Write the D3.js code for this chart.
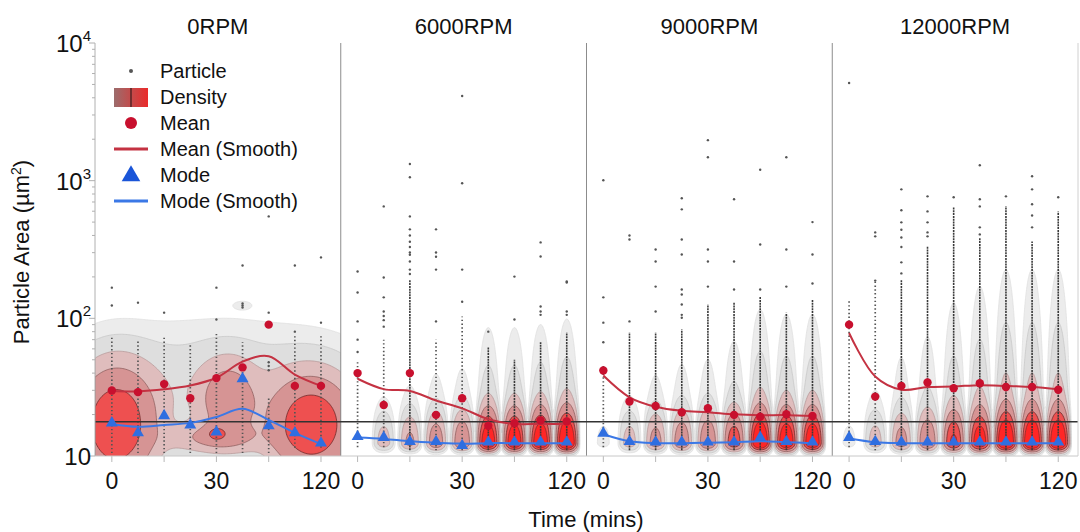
<!DOCTYPE html>
<html>
<head>
<meta charset="utf-8">
<script src="https://cdn.jsdelivr.net/npm/d3@7"></script>
<style>
  body { margin: 0; background: #fff; }
  svg { display: block; font-family: "Liberation Sans", Arial, sans-serif; }
</style>
</head>
<body>
<div id="chart"></div>
<script>
// Chart data

const panelNames = ["0RPM", "6000RPM", "9000RPM", "12000RPM"];
const times = ["0", "5", "10", "15", "30", "45", "60", "90", "120"];
const timeLabels = ["0", "30", "120"];
const yTicks = [10, 100, 1000, 10000];
const referenceLine = 17.7;

// mean / mode per panel per time point (µm²)
const meanValues = [
    [29.9, 29.1, 33.3, 26.3, 36.8, 44.0, 90, 32.3, 32.3],
    [40, 23.5, 40, 19.9, 26.3, 16.6, 17.3, 18.1, 17.8],
    [41.8, 24.9, 23.1, 20.8, 22.2, 19.9, 19.3, 20.1, 19.5],
    [90, 27, 32.3, 34.2, 31.1, 33.8, 31.7, 31.7, 30.3]
];
const meanSmooth = [
    [29.7, 29.5, 30.5, 32.5, 37, 48.5, 53, 39, 32.3],
    [36.4, 30.6, 29.7, 25.3, 22.2, 18.5, 17.1, 17.1, 17.1],
    [38.4, 26.7, 22.8, 21.3, 20.8, 20.1, 19.8, 19.8, 19.5],
    [78.3, 37.8, 30.3, 31.7, 32, 32.7, 32.3, 31.7, 30.6]
];
const modeValues = [
    [17.1, 14.5, 19.3, 16.5, 14.7, 35.8, 16.3, 14.5, 12.2],
    [13.6, 13.4, 12.5, 12.5, 11.7, 12.4, 12.4, 12.4, 12.4],
    [14.4, 12.5, 12.4, 12.4, 12.4, 12.4, 13.4, 12.5, 12.4],
    [13.4, 12.5, 12.4, 12.4, 12.4, 12.4, 12.4, 12.4, 12.4]
];
const modeSmooth = [
    [17.1, 16.3, 16.8, 17.4, 19.2, 22, 18.3, 14.7, 12.2],
    [13.6, 13.3, 12.8, 12.5, 12.3, 12.4, 12.4, 12.4, 12.4],
    [14.4, 12.8, 12.4, 12.4, 12.5, 12.6, 12.8, 12.6, 12.4],
    [13.4, 12.6, 12.4, 12.4, 12.4, 12.4, 12.4, 12.4, 12.4]
];

// single particles (outliers above the strips)
const particleOutliers = [
    [[167, 124], [130], [110], [], [167, 98], [242, 128, 124, 120], [550, 110, 48, 45, 42], [242, 80], [277, 93]],
    [[219, 154, 95, 70, 57], [650, 198, 142, 112, 104, 97, 87], [1320, 1060, 550, 443, 400, 360, 330, 301, 290, 259, 226, 210],
     [443, 301, 280, 226, 95], [4120, 957, 226, 132], [80], [201, 98], [356, 281, 122, 112, 106], [185, 182, 112, 106]],
    [[1006, 142, 93, 67], [400, 374, 95], [316, 259, 170, 112], [745, 619, 374, 291, 162, 149, 126, 106, 101],
     [1970, 1480, 316, 259, 170], [732, 259, 162], [1200, 344, 162], [1480, 316, 170], [500, 291, 179]],
    [[5120], [421, 394, 188], [865, 609, 498, 440, 387, 330, 255, 212], [769, 598, 498, 421, 394], [757],
     [1294, 732, 650, 458, 407], [769], [1076, 865, 674, 559, 458], [757]]
];
// packed particle strips [low, high]; null = none
const denseStrips = [
    [null, null, null, null, null, null, null, null, null],
    [null, null, [11, 190], null, null, [11, 62], [11, 50], [11, 67], [11, 79]],
    [null, [11, 79], [11, 79], [11, 83], [11, 126], [11, 130], [11, 144], [11, 110], [11, 137]],
    [null, null, [11, 190], [11, 333], [11, 640], [11, 387], [11, 651], [11, 362], [11, 598]]
];
// loose particle strips [low, high]
const sparseStrips = [
    [[10.5, 74], [10.5, 70], [10.5, 74], [10.5, 64], [10.5, 80], [10.5, 67], [10.5, 27], [11.5, 74], [11.5, 74]],
    [[11.6, 48], [11.6, 70], null, [11, 70], [11, 103], null, null, null, null],
    [[11.6, 46], null, null, null, null, null, null, null, null],
    [[11.6, 137], [11, 188], null, null, null, null, null, null, null]
];

// density strength per column (panels with violins)
const violinWeights = [
    null,
    [0.02, 0.18, 0.3, 0.42, 0.48, 1.3, 1.3, 1.4, 1.6],
    [0.03, 0.18, 0.35, 0.45, 0.5, 0.75, 1.5, 1.35, 1.35],
    [0.03, 0.18, 0.35, 0.5, 0.9, 1.2, 1.6, 1.6, 1.6]
];
const violinTail = [null, 0.3, 0.33, 0.42];
// 0RPM density blobs: [time index, centre value, x spread (index), log spread, weight]
const blobs0RPM = [
    [0.15, 16.5, 0.95, 0.26, 0.75],
    [7.65, 16.5, 1.0, 0.22, 0.75],
    [4.0, 14.5, 0.22, 0.03, 0.3],
    [4.45, 25, 0.7, 0.18, 0.35],
    [3.95, 13.5, 1.15, 0.07, 0.25],
    [4.0, 32, 3.8, 0.28, 0.09],
    [5.0, 125, 0.3, 0.025, 0.022]
];

const legendItems = ["Particle", "Density", "Mean", "Mean (Smooth)", "Mode", "Mode (Smooth)"];

// Layout

const width = 1080, height = 532;
const plotLeft = 95, plotRight = 1078, plotTop = 43, plotBottom = 456;
const panelWidth = (plotRight - plotLeft) / panelNames.length;

const densityLevels = [0.02, 0.05, 0.12, 0.25, 0.5, 0.8];
const densityFill = ["#ececec", "#dedede", "#dfbdbd", "#d69494", "#ee5050", "#ff2626"];
const densityStroke = ["#e0e0e0", "#c8c8c8", "#b89a9a", "#8f6060", "#6e2a2a", "#8a2a2a"];

const meanColor = "#c8102e", meanLine = "#c43242";
const modeColor = "#2f6ee0", modeLine = "#3b78e6";

const svg = d3.select("#chart").append("svg")
    .attr("width", width)
    .attr("height", height);

const y = d3.scaleLog().domain([10, 10000]).range([plotBottom, plotTop]);

function xScaleFor(p) {
    const x0 = plotLeft + p * panelWidth;
    return d3.scalePoint().domain(times).range([x0, x0 + panelWidth]).padding(0.7).align(0.46);
}

const defs = svg.append("defs");

// density contours on a grid, then d3.contours
function drawDensity(g, p, x) {
    const x0 = plotLeft + p * panelWidth;
    const cell = 1.5;
    const nx = Math.ceil(panelWidth / cell), ny = Math.ceil((plotBottom - plotTop) / cell);
    const values = new Float64Array(nx * ny);
    const step = x.step();
    const L0 = Math.log10(12.5);
    const halfW = 14;
    for (let j = 0; j < ny; j++) {
        const L = Math.log10(y.invert(plotTop + (j + 0.5) * cell));
        for (let i = 0; i < nx; i++) {
            const px = x0 + (i + 0.5) * cell;
            let v = 0;
            if (p === 0) {
                blobs0RPM.forEach(([ti, c, sx, sl, w]) => {
                    const dx = (px - x(times[0])) / step - ti;
                    const dl = L - Math.log10(c);
                    v += w * Math.exp(-dx * dx / (2 * sx * sx)) * Math.exp(-dl * dl / (2 * sl * sl));
                });
            } else {
                violinWeights[p].forEach((w, k) => {
                    const u = (px - x(times[k])) / halfW;
                    if (Math.abs(u) >= 1) return;
                    const d = L - L0;
                    const vert = d < 0
                        ? Math.exp(-d * d / (2 * 0.035 * 0.035))
                        : 0.75 * Math.exp(-d * d / (2 * 0.13 * 0.13)) + 0.25 * Math.exp(-d / violinTail[p]);
                    const k2 = 1 - u * u;
                    v += w * vert * k2 * k2;
                });
            }
            values[j * nx + i] = v;
        }
    }
    const contours = d3.contours().size([nx, ny]).thresholds(densityLevels)(values);
    const path = d3.geoPath(d3.geoIdentity().scale(cell).translate([x0, plotTop]));
    g.selectAll("path.density")
        .data(contours)
        .enter()
        .append("path")
        .attr("class", "density")
        .attr("d", path)
        .attr("fill", (d, i) => densityFill[i])
        .attr("stroke", (d, i) => densityStroke[i])
        .attr("stroke-width", 0.8);
}

panelNames.forEach((name, p) => {
    const x = xScaleFor(p);
    const x0 = plotLeft + p * panelWidth;

    defs.append("clipPath").attr("id", "clip" + p)
        .append("rect")
        .attr("x", x0).attr("y", plotTop)
        .attr("width", panelWidth).attr("height", plotBottom - plotTop);

    const g = svg.append("g").attr("clip-path", "url(#clip" + p + ")");
    drawDensity(g, p, x);

    // particle strips
    times.forEach((t, k) => {
        const s = sparseStrips[p][k];
        if (s) {
            g.append("line")
                .attr("x1", x(t)).attr("x2", x(t))
                .attr("y1", y(s[0])).attr("y2", y(s[1]))
                .attr("stroke", "#555").attr("stroke-width", 1.7)
                .attr("stroke-dasharray", "1.4 2.4");
        }
        const dn = denseStrips[p][k];
        if (dn) {
            g.append("line")
                .attr("x1", x(t)).attr("x2", x(t))
                .attr("y1", y(dn[0])).attr("y2", y(dn[1]))
                .attr("stroke", "#3a3a3a").attr("stroke-width", 1.6)
                .attr("stroke-dasharray", "2 0.8");
        }
        g.selectAll(null)
            .data(particleOutliers[p][k])
            .enter()
            .append("circle")
            .attr("cx", x(t))
            .attr("cy", (d) => y(d))
            .attr("r", 1.2)
            .attr("fill", "#555");
    });

    // panel title
    svg.append("text")
        .attr("x", x0 + panelWidth / 2)
        .attr("y", 34)
        .attr("text-anchor", "middle")
        .attr("font-size", 22)
        .attr("fill", "#111")
        .text(name);

    // bottom ticks + labels
    times.forEach((t, k) => {
        if (k % 2 === 0) {
            svg.append("line")
                .attr("x1", x(t)).attr("x2", x(t))
                .attr("y1", plotBottom).attr("y2", plotBottom + 6)
                .attr("stroke", "#b8b8b8");
        }
    });
    svg.selectAll(null)
        .data(timeLabels)
        .enter()
        .append("text")
        .attr("x", (d) => x(d))
        .attr("y", 489)
        .attr("text-anchor", "middle")
        .attr("font-size", 23)
        .attr("fill", "#111")
        .text((d) => d);

    if (p > 0) {
        svg.append("line")
            .attr("x1", x0).attr("x2", x0)
            .attr("y1", plotTop).attr("y2", plotBottom)
            .attr("stroke", "#8c8c8c");
    }
});

// reference line
svg.append("line")
    .attr("x1", plotLeft).attr("x2", plotRight)
    .attr("y1", y(referenceLine)).attr("y2", y(referenceLine))
    .attr("stroke", "#333").attr("stroke-width", 1.5);

// smooth lines and markers
panelNames.forEach((name, p) => {
    const x = xScaleFor(p);
    const line = d3.line()
        .x((d, i) => x(times[i]))
        .y((d) => y(d))
        .curve(d3.curveCatmullRom);

    svg.append("path").attr("d", line(meanSmooth[p]))
        .attr("fill", "none").attr("stroke", meanLine).attr("stroke-width", 2);
    svg.append("path").attr("d", line(modeSmooth[p]))
        .attr("fill", "none").attr("stroke", modeLine).attr("stroke-width", 2);

    svg.selectAll(null)
        .data(meanValues[p])
        .enter()
        .append("circle")
        .attr("cx", (d, i) => x(times[i]))
        .attr("cy", (d) => y(d))
        .attr("r", 4.2)
        .attr("fill", meanColor);

    svg.selectAll(null)
        .data(modeValues[p])
        .enter()
        .append("path")
        .attr("d", d3.symbol(d3.symbolTriangle, 62))
        .attr("transform", (d, i) => `translate(${x(times[i])},${y(d) - 1})`)
        .attr("fill", modeColor);
});

// axes
svg.append("line")
    .attr("x1", plotLeft).attr("x2", plotLeft)
    .attr("y1", plotTop).attr("y2", plotBottom)
    .attr("stroke", "#b0b0b0");
svg.append("line")
    .attr("x1", plotRight).attr("x2", plotRight)
    .attr("y1", plotTop).attr("y2", plotBottom)
    .attr("stroke", "#d0d0d0");
svg.append("line")
    .attr("x1", plotLeft).attr("x2", plotRight)
    .attr("y1", plotBottom).attr("y2", plotBottom)
    .attr("stroke", "#c8c8c8");

const minorTicks = y.ticks();
svg.selectAll(null)
    .data(minorTicks)
    .enter()
    .append("line")
    .attr("x1", (d) => yTicks.includes(d) ? plotLeft - 6 : plotLeft - 3)
    .attr("x2", plotLeft)
    .attr("y1", (d) => y(d)).attr("y2", (d) => y(d))
    .attr("stroke", "#b0b0b0");

const yLabels = svg.selectAll(null)
    .data(yTicks)
    .enter()
    .append("text")
    .attr("x", 91)
    .attr("y", (d) => y(d) + 9)
    .attr("text-anchor", "end")
    .attr("font-size", 24)
    .attr("fill", "#111");
yLabels.append("tspan").text("10");
yLabels.filter((d) => d > 10)
    .append("tspan")
    .attr("dy", -11)
    .attr("font-size", 15)
    .text((d) => Math.round(Math.log10(d)));

svg.append("text")
    .attr("transform", "translate(29,252) rotate(-90)")
    .attr("text-anchor", "middle")
    .attr("font-size", 22)
    .attr("fill", "#111")
    .html("Particle Area (µm<tspan dy='-8' font-size='14'>2</tspan><tspan dy='8'>)</tspan>");

svg.append("text")
    .attr("x", 586)
    .attr("y", 527)
    .attr("text-anchor", "middle")
    .attr("font-size", 22)
    .attr("fill", "#111")
    .text("Time (mins)");

// legend
const legend = svg.append("g").attr("class", "legend");
const grad = defs.append("linearGradient").attr("id", "densGrad");
grad.append("stop").attr("offset", "0%").attr("stop-color", "#9c6c6c");
grad.append("stop").attr("offset", "100%").attr("stop-color", "#ea2a2a");

legendItems.forEach((label, i) => {
    const cy = 71 + i * 26;
    const sx = 131;
    if (i === 0) {
        legend.append("circle").attr("cx", sx).attr("cy", cy).attr("r", 2).attr("fill", "#555");
    } else if (i === 1) {
        legend.append("rect").attr("x", 114).attr("y", cy - 9).attr("width", 34).attr("height", 19)
            .attr("fill", "url(#densGrad)");
        legend.append("line").attr("x1", sx).attr("x2", sx).attr("y1", cy - 9).attr("y2", cy + 10)
            .attr("stroke", "#3a1a1a").attr("stroke-width", 1.2);
    } else if (i === 2) {
        legend.append("circle").attr("cx", sx).attr("cy", cy).attr("r", 6).attr("fill", meanColor);
    } else if (i === 3) {
        legend.append("line").attr("x1", 114).attr("x2", 148).attr("y1", cy).attr("y2", cy)
            .attr("stroke", meanLine).attr("stroke-width", 3);
    } else if (i === 4) {
        legend.append("path").attr("d", d3.symbol(d3.symbolTriangle, 150))
            .attr("transform", `translate(${sx},${cy + 1})`).attr("fill", "#1a55d8");
    } else {
        legend.append("line").attr("x1", 114).attr("x2", 148).attr("y1", cy).attr("y2", cy)
            .attr("stroke", modeLine).attr("stroke-width", 3);
    }
    legend.append("text")
        .attr("x", 160)
        .attr("y", cy + 7)
        .attr("font-size", 20)
        .attr("fill", "#111")
        .text(label);
});
</script>
</body>
</html>
